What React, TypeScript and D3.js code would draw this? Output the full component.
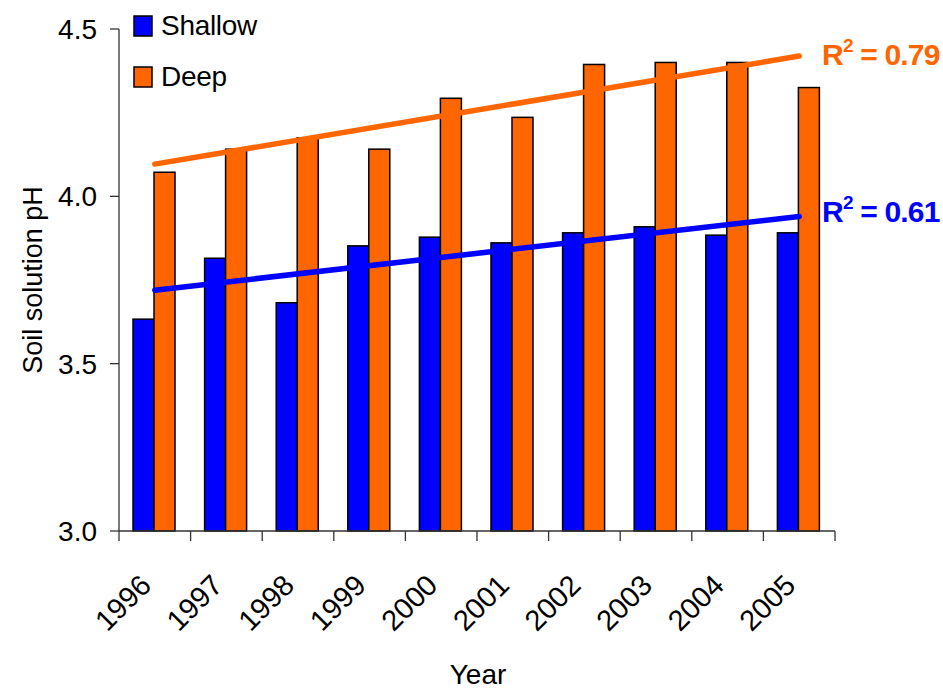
import React, { useEffect, useRef } from 'react';
import * as d3 from 'd3';

const years = ['1996', '1997', '1998', '1999', '2000', '2001', '2002', '2003', '2004', '2005'];
const shallow = [3.633, 3.815, 3.682, 3.852, 3.878, 3.861, 3.891, 3.909, 3.884, 3.891];
const deep = [4.072, 4.141, 4.175, 4.141, 4.293, 4.236, 4.394, 4.4, 4.4, 4.325];
const yTicks = [3.0, 3.5, 4.0, 4.5];
const r2Labels = { shallow: '0.61', deep: '0.79' };

const BLUE = '#0000ff';
const ORANGE = '#ff6600';

// least squares trend over year index
const fit = (vals: number[]) => {
  const n = vals.length;
  const mx = (n - 1) / 2;
  const my = d3.mean(vals) as number;
  let sxy = 0, sxx = 0;
  vals.forEach((v, i) => { sxy += (i - mx) * (v - my); sxx += (i - mx) * (i - mx); });
  const b = sxy / sxx;
  return (i: number) => my + b * (i - mx);
};

const App: React.FC = () => {
  const svgRef = useRef<SVGSVGElement>(null);

  useEffect(() => {
    const svg = d3.select(svgRef.current);
    svg.selectAll('*').remove();

    const W = 943, H = 691;
    const left = 119, right = 835, top = 29, bottom = 531;
    const font = 'Arial, "Liberation Sans", sans-serif';

    svg.attr('width', W).attr('height', H);

    const x = d3.scaleBand().domain(years).range([left, right]).padding(0);
    const y = d3.scaleLinear().domain([3.0, 4.5]).range([bottom, top]);
    const inner = d3.scaleBand().domain(['s', 'd']).range([14, 56]).padding(0);

    // bars
    const g = svg.append('g');
    years.forEach((yr, i) => {
      [['s', shallow[i], BLUE], ['d', deep[i], ORANGE]].forEach(([k, v, c]) => {
        g.append('rect')
          .attr('x', (x(yr) as number) + (inner(k as string) as number))
          .attr('y', y(v as number))
          .attr('width', inner.bandwidth())
          .attr('height', bottom - y(v as number))
          .attr('fill', c as string)
          .attr('stroke', '#000')
          .attr('stroke-width', 1.5);
      });
    });

    // axes
    const ax = svg.append('g').attr('stroke', '#333').attr('stroke-width', 1.3);
    ax.append('line').attr('x1', left).attr('x2', left).attr('y1', top).attr('y2', bottom);
    ax.append('line').attr('x1', left).attr('x2', right).attr('y1', bottom).attr('y2', bottom);
    yTicks.forEach(t => {
      ax.append('line').attr('x1', left - 9).attr('x2', left).attr('y1', y(t)).attr('y2', y(t));
    });
    [...years.map(yr => x(yr) as number), right].forEach(px => {
      ax.append('line').attr('x1', px).attr('x2', px).attr('y1', bottom).attr('y2', bottom + 10);
    });

    svg.selectAll('.ytick')
      .data(yTicks)
      .enter().append('text')
      .attr('x', 97)
      .attr('y', d => y(d) + 10)
      .attr('text-anchor', 'end')
      .style('font-family', font)
      .style('font-size', '28px')
      .text(d => d.toFixed(1));

    svg.selectAll('.xtick')
      .data(years)
      .enter().append('text')
      .attr('transform', d => `translate(${(x(d) as number) + x.bandwidth() / 2 - 2},${bottom + 56}) rotate(-45)`)
      .attr('text-anchor', 'end')
      .style('font-family', font)
      .style('font-size', '29px')
      .text(d => d);

    svg.append('text')
      .attr('x', 478).attr('y', 684)
      .attr('text-anchor', 'middle')
      .style('font-family', font).style('font-size', '28px')
      .text('Year');

    svg.append('text')
      .attr('transform', `translate(42,${(top + bottom) / 2}) rotate(-90)`)
      .attr('text-anchor', 'middle')
      .style('font-family', font).style('font-size', '27px')
      .text('Soil solution pH');

    // trend lines
    const line = d3.line<[number, number]>().x(d => d[0]).y(d => d[1]);
    const trends: [number[], string, string, number][] = [
      [deep, ORANGE, r2Labels.deep, 9],
      [shallow, BLUE, r2Labels.shallow, 6],
    ];
    trends.forEach(([vals, c, lab, off]) => {
      const f = fit(vals);
      const pts: [number, number][] = [0, vals.length - 1].map(i =>
        [(x(years[i]) as number) + x.bandwidth() / 2, y(f(i))]);
      svg.append('path')
        .attr('d', line(pts) as string)
        .attr('stroke', c)
        .attr('stroke-width', 5.5)
        .attr('stroke-linecap', 'round')
        .attr('fill', 'none');
      const t = svg.append('text')
        .attr('x', 822)
        .attr('y', pts[1][1] + off)
        .attr('fill', c)
        .style('font-family', font)
        .style('font-weight', 'bold')
        .style('font-size', '30px')
        .style('letter-spacing', '-0.8px');
      t.append('tspan').text('R');
      t.append('tspan').attr('dy', -13).style('font-size', '19px').text('2');
      t.append('tspan').attr('dy', 13).text(` = ${lab}`);
    });

    // legend
    const legend = [['Shallow', BLUE], ['Deep', ORANGE]];
    legend.forEach(([name, c], i) => {
      svg.append('rect')
        .attr('x', 134).attr('y', 16 + i * 51)
        .attr('width', 18).attr('height', 20)
        .attr('fill', c).attr('stroke', '#000').attr('stroke-width', 1.5);
      svg.append('text')
        .attr('x', 161).attr('y', 35 + i * 51)
        .style('font-family', font).style('font-size', '28px')
        .style('letter-spacing', '-0.3px')
        .text(name);
    });
  }, []);

  return (
    <svg ref={svgRef} style={{ position: 'absolute', left: 0, top: 0, background: '#fff' }}></svg>
  );
};

export default App;
